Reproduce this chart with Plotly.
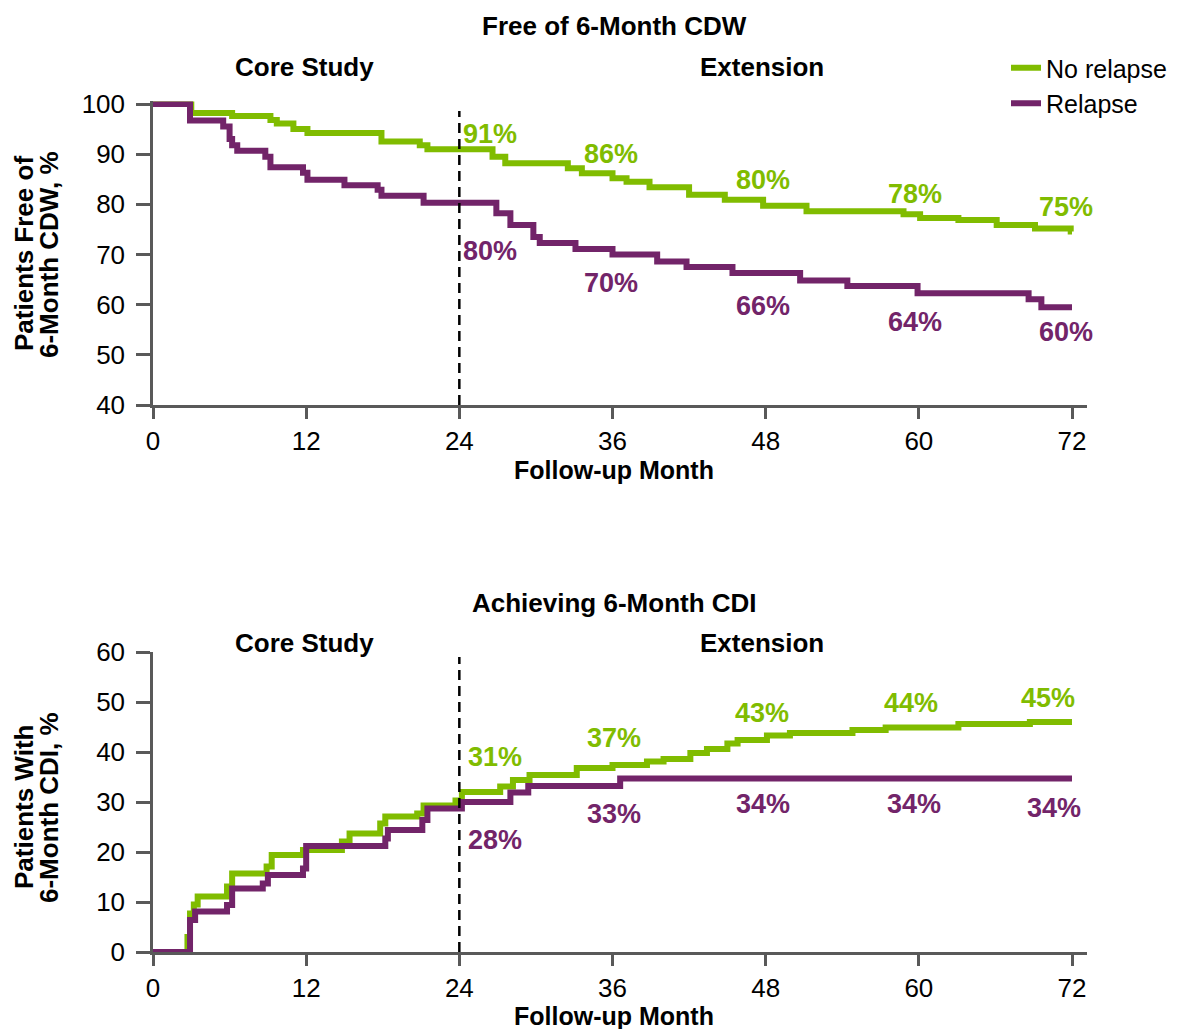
import plotly.graph_objects as go

# ---------------- DATA ----------------
months_ticks = [0, 12, 24, 36, 48, 60, 72]

# Free of 6-Month CDW (Kaplan-Meier, step changes)
cdw_noRel_t = [0, 3.0, 6.2, 9.2, 9.7, 11.0, 12.1, 17.9, 20.9, 21.5, 26.6, 27.6, 32.5, 33.6, 36.0, 37.1,
               38.9, 42.0, 44.8, 47.8, 51.2, 58.8, 60.1, 63.1, 66.1, 69.1, 71.9, 72.0]
cdw_noRel_v = [100, 98.2, 97.6, 96.8, 96.1, 95.0, 94.2, 92.5, 91.8, 91.0, 89.5, 88.2, 87.2, 86.2, 85.2, 84.5,
               83.4, 81.9, 80.9, 79.7, 78.6, 78.0, 77.3, 76.9, 75.9, 75.2, 74.6, 74.6]
cdw_rel_t = [0, 2.9, 5.5, 6.0, 6.2, 6.6, 8.8, 9.2, 11.75, 12.1, 15.0, 17.6, 17.9, 21.2, 26.9, 28.0, 29.8,
             30.3, 33.1, 36.0, 39.5, 41.8, 45.4, 50.7, 54.4, 59.9, 68.6, 69.6, 72.0]
cdw_rel_v = [100, 96.7, 95.5, 93.0, 91.8, 90.7, 89.5, 87.4, 86.3, 84.9, 83.8, 82.9, 81.7, 80.3, 78.2, 75.9, 73.5,
             72.3, 71.1, 70.0, 68.6, 67.5, 66.3, 64.8, 63.7, 62.3, 61.1, 59.5, 59.5]

# Achieving 6-Month CDI (cumulative, step changes)
cdi_noRel_t = [0, 2.7, 2.9, 3.2, 3.5, 5.8, 6.2, 8.9, 9.3, 11.75, 14.8, 15.4, 17.8, 18.2, 20.7, 21.2, 23.7,
               24.2, 27.2, 28.2, 29.5, 33.2, 36.0, 38.7, 40.0, 42.1, 43.4, 45.0, 45.8, 48.1, 49.9, 54.8,
               57.4, 63.1, 68.7, 72.0]
cdi_noRel_v = [0, 3.0, 7.7, 9.5, 11.1, 13.1, 15.7, 17.1, 19.4, 20.4, 22.1, 23.7, 25.7, 27.1, 27.7, 29.3, 30.3,
               32.0, 33.1, 34.4, 35.4, 36.8, 37.4, 38.1, 38.6, 39.8, 40.6, 41.7, 42.4, 43.3, 43.8, 44.4,
               44.9, 45.6, 46.0, 46.0]
cdi_rel_t = [0, 2.9, 3.3, 5.8, 6.2, 8.6, 9.0, 11.75, 12.0, 18.2, 18.4, 21.1, 21.5, 24.2, 28.0, 29.4, 36.6, 72.0]
cdi_rel_v = [0, 6.4, 8.1, 9.4, 12.7, 13.7, 15.4, 16.7, 21.2, 22.7, 24.4, 26.4, 28.7, 30.0, 31.9, 33.2, 34.7, 34.7]

# Percent labels at yearly landmarks
label_months = [24, 36, 48, 60, 72]
cdw_noRel_labels = ["91%", "86%", "80%", "78%", "75%"]
cdw_rel_labels = ["80%", "70%", "66%", "64%", "60%"]
cdi_noRel_labels = ["31%", "37%", "43%", "44%", "45%"]
cdi_rel_labels = ["28%", "33%", "34%", "34%", "34%"]

series_names = ["No relapse", "Relapse"]

# ---------------- STYLE ----------------
GREEN = "#80BC00"
PURPLE = "#722469"
AXIS = "#595959"
FONT = "Arial, Liberation Sans, sans-serif"
W, H = 1186, 1029
LW = 6


def px_x(p):
    return p / W


def px_y(p):
    return 1 - p / H


fig = go.Figure()

fig.add_trace(go.Scatter(x=cdw_noRel_t, y=cdw_noRel_v, mode="lines", line=dict(shape="hv", color=GREEN, width=LW),
                         name=series_names[0], xaxis="x", yaxis="y", legendgroup="a"))
fig.add_trace(go.Scatter(x=cdw_rel_t, y=cdw_rel_v, mode="lines", line=dict(shape="hv", color=PURPLE, width=LW),
                         name=series_names[1], xaxis="x", yaxis="y", legendgroup="b"))
fig.add_trace(go.Scatter(x=cdi_noRel_t, y=cdi_noRel_v, mode="lines", line=dict(shape="hv", color=GREEN, width=LW),
                         name=series_names[0], xaxis="x2", yaxis="y2", legendgroup="a", showlegend=False))
fig.add_trace(go.Scatter(x=cdi_rel_t, y=cdi_rel_v, mode="lines", line=dict(shape="hv", color=PURPLE, width=LW),
                         name=series_names[1], xaxis="x2", yaxis="y2", legendgroup="b", showlegend=False))

xdom = [px_x(153), px_x(1087)]
xrange = [0, 72 + (1087 - 1072) / ((1072 - 153) / 72)]

axis_common = dict(showline=True, linecolor=AXIS, linewidth=2.5, ticks="outside", tickwidth=2.5,
                   tickcolor=AXIS, showgrid=False, zeroline=False, layer="below traces", automargin=False,
                   tickfont=dict(family=FONT, size=26, color="#000"))

top_scale = (405 - 104) / 60.0
fig.update_layout(
    xaxis=dict(domain=xdom, range=xrange, tickvals=months_ticks, anchor="y", ticklen=11, ticklabelstandoff=0,
               **axis_common),
    yaxis=dict(domain=[px_y(405), px_y(104 - 0.5 * top_scale)], range=[40, 100.5], dtick=10, anchor="x",
               ticklen=14, ticklabelstandoff=6, **axis_common),
    xaxis2=dict(domain=xdom, range=xrange, tickvals=months_ticks, anchor="y2", ticklen=11, ticklabelstandoff=0,
                **axis_common),
    yaxis2=dict(domain=[px_y(952), px_y(652)], range=[0, 60], dtick=10, anchor="x2",
                ticklen=14, ticklabelstandoff=6, **axis_common),
)

# dashed lines at month 24
fig.add_shape(type="line", xref="x", yref="y", x0=24, x1=24, y0=40, y1=98.6,
              line=dict(color="#000", width=2.5, dash="10px,6px"))
fig.add_shape(type="line", xref="x2", yref="y2", x0=24, x1=24, y0=0, y1=59,
              line=dict(color="#000", width=2.5, dash="10px,6px"))

ann = []


def txt(text, x, y, size=25, bold=True, color="#000", angle=0, xref="paper", yref="paper", xanchor="center"):
    ann.append(dict(text=f"<b>{text}</b>" if bold else text, x=x, y=y, xref=xref, yref=yref,
                    xanchor=xanchor, yanchor="middle", showarrow=False, textangle=angle,
                    font=dict(family=FONT, size=size, color=color)))


# titles / section headings
txt("Free of 6-Month CDW", px_x(614), px_y(26), size=26)
txt("Achieving 6-Month CDI", px_x(614), px_y(603), size=26)
for yy in (67, 643):
    txt("Core Study", px_x(304), px_y(yy), size=26)
    txt("Extension", px_x(762), px_y(yy), size=26)
txt("Follow-up Month", px_x(614), px_y(470), size=25)
txt("Follow-up Month", px_x(614), px_y(1016), size=25)

# y-axis titles (two rotated lines)
txt("Patients Free of", px_x(24), px_y(254), size=26, angle=-90)
txt("6-Month CDW, %", px_x(49), px_y(254), size=26, angle=-90)
txt("Patients With", px_x(24), px_y(807), size=26, angle=-90)
txt("6-Month CDI, %", px_x(49), px_y(807), size=26, angle=-90)

# percent labels (data coordinates; offsets from the landmark month)
lab_dx = [2.4, -0.1, -0.2, -0.3, -0.5]
cdw_g_y = [94.0, 90.1, 84.9, 82.1, 79.4]
cdw_p_y = [70.7, 64.4, 59.7, 56.5, 54.5]
cdi_g_y = [39.0, 42.8, 47.9, 49.8, 50.9]
cdi_p_y = [22.4, 27.6, 29.6, 29.6, 28.8]
cdi_dx = [2.8, 0.1, -0.3, -0.6, -1.9]
cdi_p_dx = [2.8, 0.1, -0.2, -0.4, -1.4]
for i, m in enumerate(label_months):
    txt(cdw_noRel_labels[i], m + lab_dx[i], cdw_g_y[i], size=27, color=GREEN, xref="x", yref="y")
    txt(cdw_rel_labels[i], m + lab_dx[i], cdw_p_y[i], size=27, color=PURPLE, xref="x", yref="y")
    txt(cdi_noRel_labels[i], m + cdi_dx[i], cdi_g_y[i], size=27, color=GREEN, xref="x2", yref="y2")
    txt(cdi_rel_labels[i], m + cdi_p_dx[i], cdi_p_y[i], size=27, color=PURPLE, xref="x2", yref="y2")

fig.update_layout(
    annotations=ann,
    width=W, height=H,
    margin=dict(l=0, r=0, t=0, b=0, autoexpand=False),
    paper_bgcolor="white", plot_bgcolor="white",
    font=dict(family=FONT, size=25, color="#000"),
    showlegend=True,
    legend=dict(x=px_x(1006), y=px_y(45), xanchor="left", yanchor="top", bgcolor="rgba(0,0,0,0)",
                font=dict(family=FONT, size=25, color="#000"), tracegroupgap=0),
)

fig.write_html("out.html", config={"displayModeBar": False},
               post_script="document.body.style.margin='0';document.body.style.overflow='hidden';")
